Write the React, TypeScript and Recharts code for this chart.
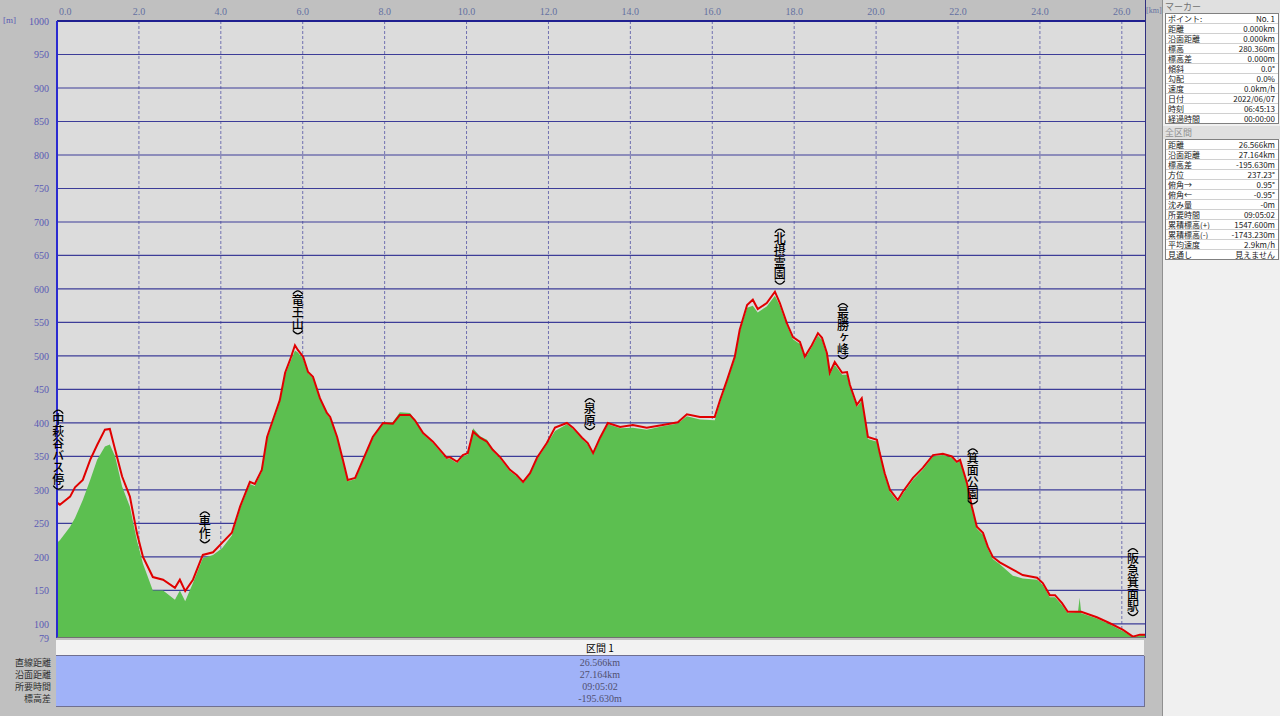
import React from 'react'
import {
  ComposedChart,
  Area,
  Line,
  XAxis,
  YAxis,
  CartesianGrid,
  ReferenceDot,
} from 'recharts'

// distance along track [km]
const distKm = [
  0.0, 0.07, 0.32, 0.44, 0.63, 0.81, 0.98, 1.17, 1.29, 1.42, 1.59, 1.78, 1.95, 2.1, 2.34, 2.59, 2.88, 3.0,
  3.13, 3.32, 3.56, 3.81, 4.03, 4.27, 4.47, 4.71, 4.83, 5.0, 5.13, 5.27, 5.44, 5.57, 5.69, 5.81, 5.88, 6.01,
  6.13, 6.25, 6.42, 6.59, 6.67, 6.84, 6.98, 7.1, 7.28, 7.47, 7.71, 7.96, 8.2, 8.37, 8.62, 8.74, 8.94, 9.18,
  9.52, 9.59, 9.77, 9.91, 10.03, 10.16, 10.33, 10.5, 10.64, 10.82, 11.06, 11.23, 11.38, 11.55, 11.72, 11.96,
  12.16, 12.45, 12.6, 12.82, 12.96, 13.09, 13.26, 13.45, 13.75, 14.06, 14.4, 14.79, 15.16, 15.38, 15.7, 16.06,
  16.19, 16.36, 16.55, 16.67, 16.85, 16.99, 17.11, 17.33, 17.53, 17.65, 17.82, 17.97, 18.14, 18.26, 18.43,
  18.58, 18.68, 18.8, 18.87, 18.99, 19.17, 19.29, 19.36, 19.53, 19.65, 19.8, 20.02, 20.09, 20.21, 20.34, 20.53,
  20.65, 20.9, 21.14, 21.39, 21.63, 21.85, 21.97, 22.05, 22.22, 22.34, 22.46, 22.61, 22.73, 22.85, 23.02, 23.34,
  23.58, 23.93, 24.07, 24.24, 24.37, 24.54, 24.68, 24.93, 24.97, 25.01, 25.39, 25.71, 26.03, 26.27, 26.44, 26.566,
]

// DEM elevation (red line) [m]
const elevDem = [
  281, 278, 290, 304, 315, 345, 367, 390, 391, 360, 320, 290, 236, 200, 170, 166, 154, 166,
  149, 166, 203, 207, 221, 236, 275, 312, 309, 330, 379, 404, 434, 475, 494, 516, 509, 499,
  476, 469, 437, 415, 409, 379, 345, 315, 318, 345, 379, 400, 399, 412, 412, 404, 385, 372,
  348, 349, 342, 352, 355, 387, 378, 372, 360, 349, 330, 322, 312, 325, 348, 370,
  393, 400, 393, 378, 370, 355, 378, 400, 394, 397, 393, 397, 401, 413, 409, 409,
  434, 464, 499, 539, 576, 584, 570, 579, 596, 579, 549, 528, 521, 499, 516,
  534, 527, 504, 475, 491, 475, 476, 457, 427, 437, 379, 375, 355, 325, 300, 285,
  297, 318, 333, 352, 354, 350, 342, 345, 310, 275, 245, 236, 215, 200, 192, 181,
  173, 169, 161, 143, 143, 131, 118, 118, 118, 118, 110, 101, 91, 81, 84, 84,
]

// GPS log elevation (green area) [m]
const elevGps = [
  221, 225, 245, 258, 285, 315, 345, 365, 368, 350, 305, 275, 225, 190, 150, 150, 136, 150,
  134, 161, 198, 203, 213, 232, 272, 309, 306, 327, 376, 401, 431, 472, 490, 508, 505, 496,
  474, 467, 437, 413, 407, 377, 343, 313, 316, 343, 377, 400, 401, 416, 415, 404, 383, 370,
  346, 347, 340, 350, 353, 392, 380, 375, 358, 347, 328, 320, 310, 323, 346, 368,
  388, 398, 391, 376, 368, 353, 376, 398, 392, 393, 390, 395, 399, 410, 405, 404,
  430, 461, 496, 536, 572, 575, 565, 574, 590, 575, 546, 525, 518, 496, 513,
  530, 524, 500, 472, 487, 472, 472, 454, 424, 433, 376, 372, 352, 322, 297, 282,
  294, 315, 330, 350, 352, 348, 340, 343, 307, 272, 242, 233, 212, 197, 189, 172,
  168, 166, 158, 140, 140, 128, 116, 118, 139, 116, 108, 99, 89, 80, 83, 84,
]

const xTicks = [0, 2, 4, 6, 8, 10, 12, 14, 16, 18, 20, 22, 24, 26]
const yTicks = [79, 100, 150, 200, 250, 300, 350, 400, 450, 500, 550, 600, 650, 700, 750, 800, 850, 900, 950, 1000]
const gridY = [100, 150, 200, 250, 300, 350, 400, 450, 500, 550, 600, 650, 700, 750, 800, 850, 900, 950]

const waypointNames = ['中萩谷バス停', '車作', '竜王山', '泉原', '北摂霊園', '最勝ヶ峰', '箕面公園', '阪急箕面駅']
const waypointKm = [0.03, 3.61, 5.88, 13.01, 17.65, 19.19, 22.36, 26.27]
const waypointTop = [423, 271, 601, 440, 693, 582, 365, 216]

const markerLabels = ['ポイント:', '距離', '沿面距離', '標高', '標高差', '傾斜', '勾配', '速度', '日付', '時刻', '経過時間']
const markerValues = ['No. 1', '0.000km', '0.000km', '280.360m', '0.000m', '0.0°', '0.0%', '0.0km/h', '2022/06/07', '06:45:13', '00:00:00']
const totalLabels = ['距離', '沿面距離', '標高差', '方位', '俯角→', '俯角←', '沈み量', '所要時間', '累積標高(+)', '累積標高(-)', '平均速度', '見通し']
const totalValues = ['26.566km', '27.164km', '-195.630m', '237.23°', '0.95°', '-0.95°', '-0m', '09:05:02', '1547.600m', '-1743.230m', '2.9km/h', '見えません']
const summaryLabels = ['直線距離', '沿面距離', '所要時間', '標高差']
const summaryValues = ['26.566km', '27.164km', '09:05:02', '-195.630m']

const data = distKm.map((d, i) => ({ d, dem: elevDem[i], gps: elevGps[i] }))

const jp = '"Noto Sans CJK JP", sans-serif'
const num = '"Liberation Serif", serif'

const XTick = (props: any) => {
  const { x, y, payload } = props
  const first = payload.value === 0
  return (
    <text x={first ? x + 2 : x} y={y} textAnchor={first ? 'start' : 'middle'} fontSize={10} fontFamily={num} fill="#6470a0">
      {payload.value.toFixed(1)}
    </text>
  )
}

const YTick = (props: any) => {
  const { x, y, payload } = props
  return (
    <text x={x} y={y + 4} textAnchor="end" fontSize={10} fontFamily={num} fill="#5a5ab4">
      {payload.value}
    </text>
  )
}

// vertical waypoint name: bracket, stacked characters, bracket
const VLabel = ({ cx, cy, text }: any) => {
  if (cx == null || cy == null) return null
  const n = Array.from(text as string).length
  const bottom = cy + 6 + n * 12
  return (
    <g>
      <path d={`M${cx - 5},${cy + 6} Q${cx},${cy - 1} ${cx + 5},${cy + 6}`} fill="none" stroke="#000" strokeWidth={1.2} />
      <text
        x={cx}
        y={cy + 6}
        fontSize={12}
        fontWeight={500}
        fontFamily={jp}
        fill="#000"
        style={{ writingMode: 'vertical-rl' as any }}
      >
        {text}
      </text>
      <path d={`M${cx - 5},${bottom} Q${cx},${bottom + 7} ${cx + 5},${bottom}`} fill="none" stroke="#000" strokeWidth={1.2} />
    </g>
  )
}

const InfoBox = ({ labels, values }: { labels: string[]; values: string[] }) => (
  <div style={{ background: '#fff', border: '1px solid #808080', margin: '0 2px' }}>
    {labels.map((l, i) => (
      <div
        key={l + i}
        style={{
          display: 'flex',
          justifyContent: 'space-between',
          height: 9,
          lineHeight: '9px',
          fontSize: 8,
          overflow: 'hidden',
          padding: '0 3px 0 2px',
          borderBottom: i < labels.length - 1 ? '1px solid #d0d0d0' : 'none',
        }}
      >
        <span>{l}</span>
        <span>{values[i]}</span>
      </div>
    ))}
  </div>
)

export default function App() {
  return (
    <div style={{ position: 'fixed', left: 0, top: 0, width: 1280, height: 716, background: '#c0c0c0', overflow: 'hidden' }}>
      <div style={{ position: 'absolute', left: 0, top: 0 }}>
        <ComposedChart width={1280} height={716} data={data} margin={{ top: 0, right: 135, bottom: 78, left: 7 }}>
          <CartesianGrid fill="#dcdcdc" horizontal={false} vertical={false} stroke="none" />
          <XAxis
            dataKey="d"
            type="number"
            orientation="top"
            domain={[0, 26.566]}
            ticks={xTicks}
            interval={0}
            height={21}
            tickSize={0}
            tickMargin={6}
            tick={<XTick />}
            axisLine={{ stroke: '#202090', strokeWidth: 2 }}
            allowDataOverflow
          />
          <YAxis
            type="number"
            domain={[79, 1000]}
            ticks={yTicks}
            interval={0}
            width={50}
            tickSize={0}
            tickMargin={8}
            tick={<YTick />}
            axisLine={{ stroke: '#2a2ad0', strokeWidth: 2 }}
            allowDataOverflow
          />
          <Area
            dataKey="gps"
            type="linear"
            stroke="none"
            fill="#5cbf50"
            fillOpacity={1}
            baseValue={79}
            isAnimationActive={false}
          />
          <CartesianGrid horizontal={false} verticalValues={xTicks.slice(1)} stroke="#7070b0" strokeDasharray="3 2" />
          <CartesianGrid vertical={false} horizontalValues={gridY} stroke="#3c3c98" strokeWidth={1.2} />
          <Line dataKey="dem" type="linear" stroke="#e00000" strokeWidth={2} dot={false} isAnimationActive={false} />
          {waypointNames.map((n, i) => (
            <ReferenceDot
              key={n}
              x={waypointKm[i]}
              y={waypointTop[i]}
              r={0}
              ifOverflow="visible"
              shape={(p: any) => <VLabel cx={p.cx} cy={p.cy} text={n} />}
            />
          ))}
        </ComposedChart>
      </div>
      <div style={{ position: 'absolute', left: 1145, top: 0, width: 1, height: 638, background: '#303080' }} />
      <div style={{ position: 'absolute', left: 57, top: 637, width: 1088, height: 1, background: '#707070' }} />
      <div style={{ position: 'absolute', left: 3, top: 15, fontSize: 9, fontFamily: num, color: '#5a5ab4' }}>[m]</div>
      <div style={{ position: 'absolute', left: 1146, top: 6, fontSize: 8, fontFamily: num, color: '#6470a0' }}>[km]</div>

      {/* section table under the profile */}
      <div
        style={{
          position: 'absolute',
          left: 56,
          top: 640,
          width: 1088,
          height: 15,
          background: '#f2f2f2',
          borderBottom: '1px solid #707090',
          fontFamily: jp,
          fontSize: 10,
          lineHeight: '15px',
          textAlign: 'center',
        }}
      >
        区間 1
      </div>
      <div
        style={{
          position: 'absolute',
          left: 56,
          top: 656,
          width: 1088,
          height: 49,
          background: '#a0b2f8',
          borderRight: '1px solid #707090',
          borderBottom: '1px solid #707090',
          fontFamily: num,
          fontSize: 10,
          color: '#505070',
          textAlign: 'center',
          paddingTop: 1,
        }}
      >
        {summaryValues.map((v) => (
          <div key={v} style={{ height: 12, lineHeight: '12px' }}>{v}</div>
        ))}
      </div>
      <div style={{ position: 'absolute', left: 0, top: 657, width: 51, fontFamily: jp, fontSize: 9, color: '#303030', textAlign: 'right' }}>
        {summaryLabels.map((l) => (
          <div key={l} style={{ height: 12, lineHeight: '12px' }}>{l}</div>
        ))}
      </div>

      {/* right info panel */}
      <div
        style={{
          position: 'absolute',
          left: 1162,
          top: 0,
          width: 118,
          height: 716,
          background: '#f0f0f0',
          borderLeft: '1px solid #909090',
          fontFamily: jp,
          color: '#202020',
        }}
      >
        <div style={{ height: 13, lineHeight: '13px', fontSize: 9, color: '#707070', background: '#e0e0e0', paddingLeft: 2 }}>マーカー</div>
        <InfoBox labels={markerLabels} values={markerValues} />
        <div style={{ height: 13, lineHeight: '13px', fontSize: 9, color: '#909090', background: '#e0e0e0', paddingLeft: 2, marginTop: 2 }}>全区間</div>
        <InfoBox labels={totalLabels} values={totalValues} />
      </div>
    </div>
  )
}
